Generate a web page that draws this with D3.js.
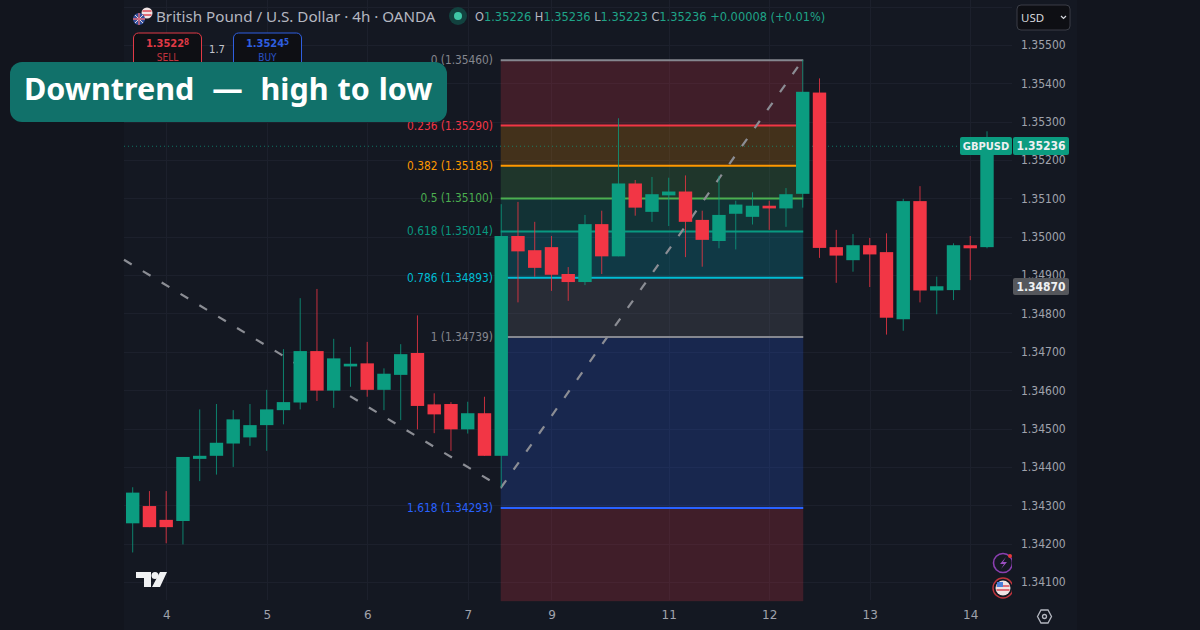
<!DOCTYPE html>
<html><head><meta charset="utf-8">
<script src="https://cdn.jsdelivr.net/npm/d3@7/dist/d3.min.js"></script>
<style>html,body{margin:0;padding:0;background:#12151e}svg{display:block}</style></head>
<body><svg id="c" width="1200" height="630"></svg>
<script>
const opens=[1.34253,1.34298,1.34262,1.34259,1.34421,1.34429,1.34461,1.34477,1.34509,1.34548,1.34568,1.34702,1.34599,1.34662,1.34670,1.34601,1.34640,1.34697,1.34563,1.34564,1.34498,1.34540,1.34429,1.35002,1.34965,1.34973,1.34903,1.34882,1.35033,1.34949,1.35139,1.35065,1.35108,1.35118,1.35044,1.34989,1.35060,1.35052,1.35081,1.35074,1.35112,1.35376,1.34973,1.34939,1.34978,1.34960,1.34785,1.35093,1.34860,1.34861,1.34978,1.34973];
const closes=[1.34333,1.34243,1.34243,1.34426,1.34429,1.34463,1.34524,1.34509,1.34550,1.34569,1.34702,1.34599,1.34683,1.34669,1.34601,1.34643,1.34694,1.34559,1.34537,1.34498,1.34540,1.34429,1.35002,1.34962,1.34919,1.34901,1.34882,1.35033,1.34949,1.35139,1.35076,1.35111,1.35118,1.35039,1.34992,1.35057,1.35084,1.35081,1.35074,1.35111,1.35378,1.34971,1.34951,1.34978,1.34954,1.34789,1.35093,1.34860,1.34871,1.34978,1.34970,1.35236];
const highs=[1.34347,1.34337,1.34337,1.34426,1.34550,1.34564,1.34548,1.34564,1.34601,1.34707,1.34840,1.34864,1.34734,1.34713,1.34726,1.34657,1.34720,1.34795,1.34592,1.34569,1.34570,1.34583,1.35085,1.35091,1.35039,1.35002,1.34921,1.35057,1.35068,1.35309,1.35148,1.35156,1.35154,1.35160,1.35068,1.35159,1.35094,1.35116,1.35094,1.35127,1.35461,1.35413,1.35018,1.35007,1.34997,1.35009,1.35099,1.35132,1.34896,1.34983,1.35002,1.35275];
const lows=[1.34177,1.34243,1.34201,1.34198,1.34363,1.34380,1.34400,1.34455,1.34442,1.34511,1.34550,1.34572,1.34554,1.34609,1.34583,1.34548,1.34522,1.34498,1.34488,1.34442,1.34487,1.34429,1.34347,1.34829,1.34896,1.34859,1.34833,1.34874,1.34903,1.34949,1.35055,1.35039,1.35028,1.34947,1.34922,1.34970,1.34967,1.35032,1.35018,1.35026,1.35076,1.34945,1.34880,1.34909,1.34869,1.34745,1.34755,1.34829,1.34798,1.34835,1.34887,1.34970];
const yTicks=[1.341,1.342,1.343,1.344,1.345,1.346,1.347,1.348,1.349,1.35,1.351,1.352,1.353,1.354,1.355];
const xTickIdx=[2,8,14,20,25,32,38,44,50];
const xTickLabels=["4","5","6","7","9","11","12","13","14"];
const fibRatios=["0","0.236","0.382","0.5","0.618","0.786","1","1.618"];
const fibPrices=[1.3546,1.3529,1.35185,1.351,1.35014,1.34893,1.34739,1.34293];
const fibColors=["#85878f","#f23645","#ff9800","#4caf50","#089981","#00bcd4","#85878f","#2962ff"];
const fibFills=["#f23645","#ff9800","#4caf50","#089981","#00bcd4","#787b86","#2962ff","#f23645"];
const fibBottom=1.3405;
const trendIdx=[-0.52,22,40];
const trendPrices=[1.34940,1.34347,1.35461];

const up="#0b9c80",dn="#f23645",bg="#141822";
const x=d3.scaleLinear().domain([0,51]).range([132.7,987]);
const y=d3.scaleLinear().domain([1.341,1.355]).range([582,45]);
const svg=d3.select("#c");
svg.append("rect").attr("width",1200).attr("height",630).attr("fill","#12151e");
svg.append("rect").attr("x",124).attr("width",953).attr("height",630).attr("fill",bg);

const FONT="'DejaVu Sans',sans-serif", UI="'Noto Sans',sans-serif";
const grid=svg.append("g").attr("stroke","#1c202c").attr("stroke-width",1);
grid.selectAll("line.h").data(yTicks.concat([1.356])).join("line").attr("class","h")
  .attr("x1",124).attr("x2",1012).attr("y1",d=>Math.round(y(d))+.5).attr("y2",d=>Math.round(y(d))+.5);
grid.selectAll("line.v").data(xTickIdx).join("line").attr("class","v")
  .attr("y1",0).attr("y2",600).attr("x1",d=>Math.round(x(d))+.5).attr("x2",d=>Math.round(x(d))+.5);
const gy=svg.append("g").attr("transform","translate(1012,0)")
  .call(d3.axisRight(y).tickValues(yTicks).tickFormat(d3.format(".5f")).tickSize(0).tickPadding(9));
gy.select(".domain").remove();
gy.selectAll("text").attr("fill","#a0a3ad").attr("font-family",FONT).attr("font-size",12).attr("font-stretch","condensed");
const gx=svg.append("g").attr("transform","translate(0,607)")
  .call(d3.axisBottom(x).tickValues(xTickIdx).tickFormat((d,i)=>xTickLabels[i]).tickSize(0).tickPadding(3));
gx.select(".domain").remove();
gx.selectAll("text").attr("fill","#a0a3ad").attr("font-family",FONT).attr("font-size",12);

// fib
const fx0=x(22)-0.5,fx1=x(40)+0.5;
const bounds=fibPrices.concat([fibBottom]);
svg.append("g").selectAll("rect").data(fibFills).join("rect")
  .attr("x",fx0).attr("width",fx1-fx0).attr("y",(d,i)=>y(bounds[i])).attr("height",(d,i)=>y(bounds[i+1])-y(bounds[i]))
  .attr("fill",d=>d).attr("fill-opacity",.2);
svg.append("g").selectAll("line").data(fibPrices).join("line")
  .attr("x1",fx0).attr("x2",fx1).attr("y1",d=>y(d)).attr("y2",d=>y(d))
  .attr("stroke",(d,i)=>fibColors[i]).attr("stroke-width",2);
svg.append("g").selectAll("text").data(fibPrices).join("text")
  .attr("x",493).attr("y",d=>y(d)+4).attr("text-anchor","end")
  .attr("fill",(d,i)=>fibColors[i]).attr("font-family",FONT).attr("font-size",11.8).attr("font-stretch","condensed")
  .text((d,i)=>`${fibRatios[i]} (${d.toFixed(5)})`);
// trend
svg.append("path").attr("d",d3.line().x(d=>x(d[0])).y(d=>y(d[1]))(trendIdx.map((d,i)=>[d,trendPrices[i]])))
  .attr("fill","none").attr("stroke","#8b8d94").attr("stroke-width",2.2).attr("stroke-dasharray","9 13");
// current price line
svg.append("line").attr("x1",124).attr("x2",1012).attr("y1",y(1.35236)).attr("y2",y(1.35236))
  .attr("stroke","#0b9c80").attr("stroke-opacity",.7).attr("stroke-dasharray","1 3");
// candles
const cg=svg.append("g").selectAll("g").data(opens).join("g");
cg.append("line").attr("x1",(d,i)=>x(i)).attr("x2",(d,i)=>x(i))
  .attr("y1",(d,i)=>y(highs[i])).attr("y2",(d,i)=>y(lows[i]))
  .attr("stroke",(d,i)=>closes[i]>=d?up:dn).attr("stroke-opacity",.8).attr("stroke-width",1);
cg.append("rect").attr("x",(d,i)=>x(i)-6.7).attr("width",13.4)
  .attr("y",(d,i)=>y(Math.max(d,closes[i]))).attr("height",(d,i)=>Math.max(2.5,Math.abs(y(d)-y(closes[i]))))
  .attr("fill",(d,i)=>closes[i]>=d?up:dn);

// price labels
function tag(xp,yp,w,h,fill,txt,fs){
  svg.append("rect").attr("x",xp).attr("y",yp).attr("width",w).attr("height",h).attr("rx",2).attr("fill",fill);
  svg.append("text").attr("x",xp+w/2).attr("y",yp+h/2+4.2).attr("text-anchor","middle").attr("fill","#eef0f2")
    .attr("font-family",FONT).attr("font-size",fs).attr("font-weight",600).attr("font-stretch","condensed").text(txt);
}
tag(960,137,52,18,"#0b9c80","GBPUSD",11);
tag(1013,137,56,18,"#0b9c80","1.35236",12);
tag(1013,278,56,17,"#55575c","1.34870",12);

// header
svg.append("text").attr("x",156).attr("y",22).attr("font-family",UI).attr("font-size",15.2).attr("fill","#b4b7c0")
  .text("British Pound / U.S. Dollar · 4h · OANDA");
svg.append("circle").attr("cx",458).attr("cy",16).attr("r",9).attr("fill","#12423f");
svg.append("circle").attr("cx",458).attr("cy",16).attr("r",4).attr("fill","#3fc6a6");
const ohlc=[["O","1.35226"],["H","1.35236"],["L","1.35223"],["C","1.35236"]];
const oh=svg.append("text").attr("x",475).attr("y",21).attr("font-family",FONT).attr("font-size",12.7).attr("font-stretch","condensed");
ohlc.forEach(([a,b])=>{oh.append("tspan").attr("fill","#b4b7c0").text(a);oh.append("tspan").attr("fill","#1fa488").text(b+"  ");});
oh.append("tspan").attr("fill","#1fa488").text("+0.00008 (+0.01%)");
// flags
function flag(cx,cy,r,us){
  const g=svg.append("g");
  g.append("circle").attr("cx",cx).attr("cy",cy).attr("r",r).attr("fill",us?"#f0e4e4":"#34509c");
  if(us){
    g.append("path").attr("d",`M${cx-r+1} ${cy-2}H${cx+r-1}M${cx-r+1} ${cy+2}H${cx+r-1}`).attr("stroke","#d94a55").attr("stroke-width",1.6);
  }else{
    g.append("path").attr("d",`M${cx-r+2} ${cy-r+2}L${cx+r-2} ${cy+r-2}M${cx+r-2} ${cy-r+2}L${cx-r+2} ${cy+r-2}`).attr("stroke","#e9d6da").attr("stroke-width",1);
    g.append("path").attr("d",`M${cx-r} ${cy}H${cx+r}M${cx} ${cy-r}V${cy+r}`).attr("stroke","#e06a78").attr("stroke-width",1.4);
  }
}
flag(147,13,5.5,true);
flag(139,19,6,false);
// buttons
function btn(xp,col,p1,p2,lab){
  svg.append("rect").attr("x",xp).attr("y",33).attr("width",68).attr("height",36).attr("rx",5).attr("fill","#0e0f14").attr("stroke",col).attr("stroke-width",1);
  const t=svg.append("text").attr("x",xp+34).attr("y",47).attr("text-anchor","middle").attr("fill",col).attr("font-family",FONT).attr("font-size",11).attr("font-weight",600).attr("font-stretch","condensed");
  t.append("tspan").text(p1);t.append("tspan").attr("font-size",8).attr("dy",-2.5).text(p2);
  svg.append("text").attr("x",xp+34).attr("y",61).attr("text-anchor","middle").attr("fill",col).attr("font-family",FONT).attr("font-size",10).attr("font-stretch","condensed").attr("opacity",.85).text(lab);
}
btn(133.5,"#e13a46","1.3522","8","SELL");
btn(233.5,"#2f5fe0","1.3524","5","BUY");
svg.append("text").attr("x",217).attr("y",53).attr("text-anchor","middle").attr("fill","#c4c6cc").attr("font-family",FONT).attr("font-size",10).text("1.7");
// title
svg.append("rect").attr("x",10).attr("y",62).attr("width",437).attr("height",60).attr("rx",12).attr("fill","#11716a");
svg.append("text").attr("x",24).attr("y",100).attr("fill","#fff").attr("font-family",UI).attr("font-weight",700).attr("font-size",30.5).attr("word-spacing",1).style("white-space","pre")
  .text("Downtrend  —  high to low");
// USD select
svg.append("rect").attr("x",1017).attr("y",5).attr("width",53).attr("height",25).attr("rx",4).attr("fill","#0e0f14").attr("stroke","#3a3d46");
svg.append("text").attr("x",1021).attr("y",22).attr("fill","#d6d8de").attr("font-family",UI).attr("font-size",11.5).text("USD");
svg.append("path").attr("d","M1061 16l2.5 2.5 2.5-2.5").attr("fill","none").attr("stroke","#d6d8de").attr("stroke-width",1.2);
// TV logo
const tv=svg.append("g").attr("fill","#f0f1f3");
tv.append("path").attr("d","M136 572H151V587H144V578H136Z");
tv.append("circle").attr("cx",155).attr("cy",575.5).attr("r",3.5);
tv.append("path").attr("d","M160 572H167L160 587H152Z");
// hexagon
svg.append("path").attr("d","M1037.5 616.5L1041 610H1048L1051.5 616.5L1048 623H1041Z").attr("fill","none").attr("stroke","#b4b7c0").attr("stroke-width",1.3);
svg.append("circle").attr("cx",1044.5).attr("cy",616.5).attr("r",2).attr("fill","none").attr("stroke","#b4b7c0").attr("stroke-width",1.3);
// side icons
svg.append("circle").attr("cx",1003).attr("cy",563).attr("r",9.5).attr("fill","none").attr("stroke","#8a3fb0").attr("stroke-width",1.6);
svg.append("path").attr("d","M1006 557L1000 564H1004L1001 569L1007 562H1003Z").attr("fill","#9a4fc0");
svg.append("circle").attr("cx",1010).attr("cy",556).attr("r",2).attr("fill","#e63a3a");
svg.append("circle").attr("cx",1003).attr("cy",588).attr("r",10).attr("fill","none").attr("stroke","#c0343c").attr("stroke-width",1.4);
flag(1003,588,7.5,true);
svg.append("rect").attr("x",997).attr("y",582).attr("width",6).attr("height",5).attr("fill","#4a7fd8");
svg.append("rect").attr("x",1012).attr("y",550).attr("width",8).attr("height",50).attr("fill",bg);
</script></body></html>
